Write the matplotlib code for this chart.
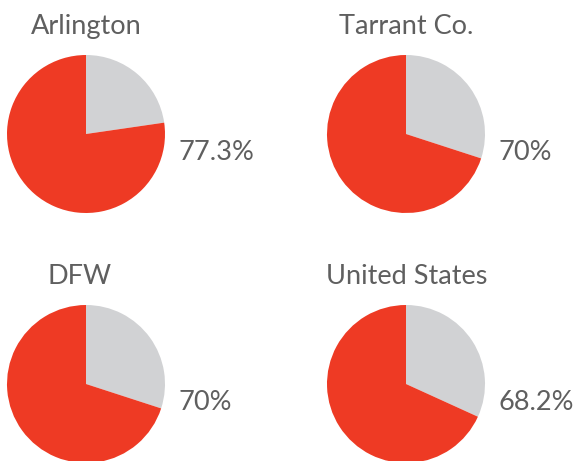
import matplotlib.pyplot as plt

# share of each area (red wedge), percent
places = ["Arlington", "Tarrant Co.", "DFW", "United States"]
shares = [77.3, 70, 70, 68.2]
share_labels = ["77.3%", "70%", "70%", "68.2%"]

RED = "#EE3A24"
GREY = "#D1D2D4"
TEXT = "#5f5f5f"

W, H = 576, 461
fig = plt.figure(figsize=(W / 100, H / 100), dpi=100)
plt.rcParams["font.family"] = ["Lato", "DejaVu Sans"]

# pie centres in pixels (x, y from top), radius in pixels
centres = [(86, 134), (406, 134), (86, 384), (406, 384)]
R = 79
title_y = [34, 34, 284, 284]
title_x = [86, 406, 80, 407]

for name, share, lab, (cx, cy), tx, ty in zip(places, shares, share_labels, centres, title_x, title_y):
    ax = fig.add_axes([(cx - R) / W, 1 - (cy + R) / H, 2 * R / W, 2 * R / H])
    ax.pie([100 - share, share], colors=[GREY, RED], startangle=90,
           counterclock=False, radius=1, wedgeprops=dict(linewidth=0))
    ax.set_xlim(-1, 1)
    ax.set_ylim(-1, 1)
    ax.set_aspect("equal")
    ax.axis("off")
    for p in ax.patches:
        p.set_clip_on(False)

    fig.text(tx / W, 1 - ty / H, name, ha="center", va="baseline",
             fontsize=19.5, color=TEXT, fontweight="normal")
    fig.text((cx + 92) / W, 1 - (cy + 26) / H, lab, ha="left", va="baseline",
             fontsize=19.5, color=TEXT, fontweight="normal")

fig.savefig("out.png", dpi=100)
